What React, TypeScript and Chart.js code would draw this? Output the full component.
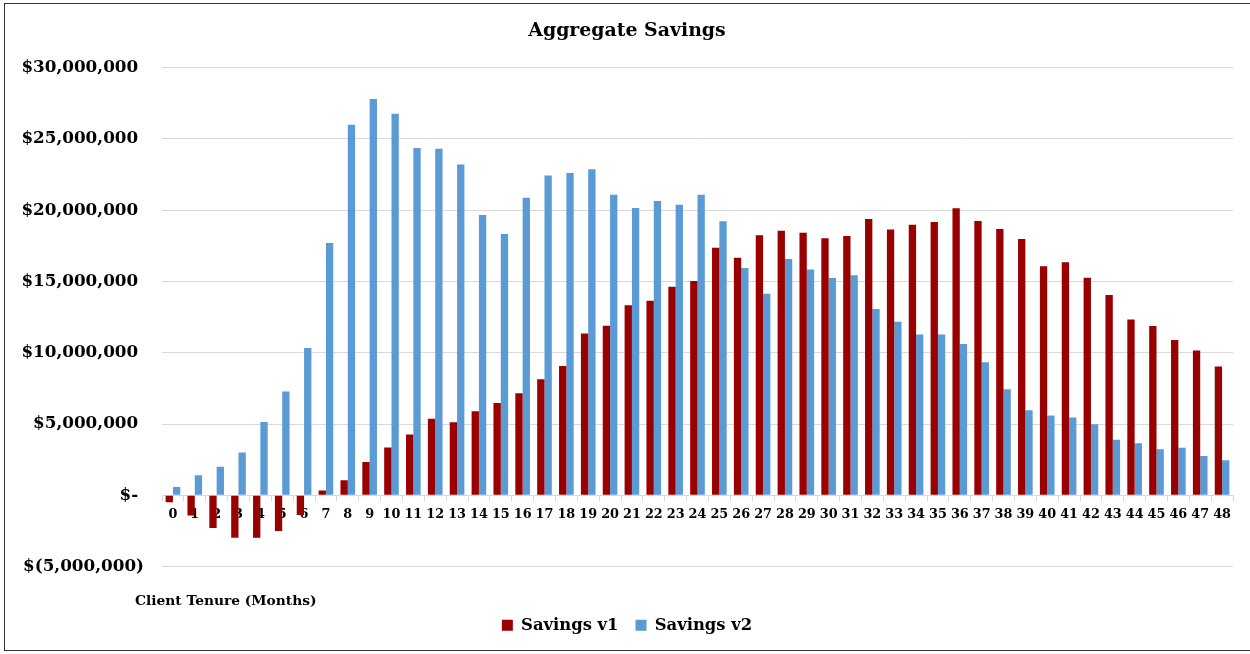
import React, { useEffect, useRef } from "react";
import { Chart, registerables } from "chart.js";

Chart.register(...registerables);

const months: string[] = Array.from({ length: 49 }, (_, i) => String(i));

const savingsV1: number[] = [
  -0.49, -1.41, -2.3, -2.97, -2.97, -2.5, -1.38, 0.33, 1.05, 2.34,
  3.35, 4.27, 5.38, 5.13, 5.9, 6.48, 7.16, 8.15, 9.08, 11.35,
  11.89, 13.34, 13.65, 14.63, 15.03, 17.37, 16.67, 18.24, 18.56, 18.42,
  18.03, 18.2, 19.39, 18.64, 18.99, 19.18, 20.14, 19.25, 18.69, 17.99,
  16.07, 16.35, 15.27, 14.05, 12.34, 11.87, 10.89, 10.16, 9.04,
].map((v) => v * 1e6);

const savingsV2: number[] = [
  0.59, 1.41, 2.01, 3.0, 5.15, 7.28, 10.33, 17.7, 26.0, 27.8,
  26.77, 24.37, 24.32, 23.2, 19.66, 18.33, 20.88, 22.43, 22.61, 22.87,
  21.09, 20.15, 20.65, 20.39, 21.09, 19.22, 15.94, 14.14, 16.57, 15.85,
  15.25, 15.43, 13.07, 12.18, 11.29, 11.29, 10.61, 9.34, 7.45, 5.97,
  5.6, 5.46, 4.99, 3.89, 3.65, 3.23, 3.33, 2.76, 2.46,
].map((v) => v * 1e6);

const seriesNames: string[] = ["Savings v1", "Savings v2"];
const seriesColors: string[] = ["#990000", "#5B9BD5"];
const chartTitle = "Aggregate Savings";
const xAxisTitle = "Client Tenure (Months)";

const FONT = '"DejaVu Serif", serif';

function formatMoney(v: number): string {
  if (v === 0) return "$- ";
  const abs = Math.abs(v).toLocaleString("en-US");
  return v < 0 ? `$(${abs})` : `$${abs} `;
}

const axisTitlePlugin = {
  id: "axisTitleText",
  afterDraw(chart: any) {
    const { ctx, chartArea } = chart;
    ctx.save();
    ctx.font = `bold 13.8px ${FONT}`;
    ctx.fillStyle = "#000";
    ctx.textAlign = "left";
    ctx.textBaseline = "middle";
    ctx.fillText(xAxisTitle, chartArea.left - 27, chartArea.bottom + 35);
    ctx.restore();
  },
};

export default function App() {
  const canvasRef = useRef<HTMLCanvasElement | null>(null);

  useEffect(() => {
    if (!canvasRef.current) return;
    Chart.defaults.font.family = FONT;
    Chart.defaults.color = "#000";
    const chart = new Chart(canvasRef.current, {
      type: "bar",
      data: {
        labels: months,
        datasets: [
          {
            label: seriesNames[0],
            data: savingsV1,
            backgroundColor: seriesColors[0],
            borderWidth: 0,
            categoryPercentage: 0.67,
            barPercentage: 1,
          },
          {
            label: seriesNames[1],
            data: savingsV2,
            backgroundColor: seriesColors[1],
            borderWidth: 0,
            categoryPercentage: 0.67,
            barPercentage: 1,
          },
        ],
      },
      options: {
        animation: false,
        responsive: false,
        maintainAspectRatio: false,
        layout: { padding: { left: 21, right: 17, top: 0, bottom: 10.5 } },
        plugins: {
          title: {
            display: true,
            text: chartTitle,
            color: "#000",
            font: { size: 18.9, weight: "bold", family: FONT },
            padding: { top: 20, bottom: 25 },
          },
          legend: {
            position: "bottom",
            labels: {
              color: "#000",
              font: { size: 16.4, weight: "bold", family: FONT },
              boxWidth: 11,
              boxHeight: 11,
              padding: 17,
            },
          },
          tooltip: { enabled: false },
        },
        scales: {
          x: {
            position: { y: 0 } as any,
            offset: true,
            grid: {
              display: true,
              offset: true,
              drawOnChartArea: false,
              drawTicks: true,
              tickLength: 5,
              color: "#d9d9d9",
            },
            border: { display: true, color: "#d9d9d9", width: 1 },
            ticks: {
              color: "#000",
              font: { size: 12.8, weight: "bold", family: FONT },
              padding: 7,
              maxRotation: 0,
              autoSkip: false,
            },
          },
          xPad: {
            type: "category",
            labels: [""],
            position: "bottom",
            display: true,
            grid: { display: false },
            border: { display: false },
            ticks: { display: false },
            afterFit(scale: any) {
              scale.height = 33.5;
            },
          },
          y: {
            min: -5000000,
            max: 30000000,
            ticks: {
              stepSize: 5000000,
              color: "#000",
              font: { size: 16.8, weight: "bold", family: FONT },
              padding: 18,
              callback: (v: any) => formatMoney(Number(v)),
            },
            grid: { color: "#d9d9d9", lineWidth: 1, drawTicks: false },
            border: { display: false },
            afterFit(scale: any) {
              scale.width = 141;
            },
          },
        },
      },
      plugins: [axisTitlePlugin],
    });
    return () => chart.destroy();
  }, []);

  return (
    <div style={{ position: "absolute", left: 0, top: 0, width: 1250, height: 654, background: "#fff" }}>
      <div
        style={{
          position: "absolute",
          left: 4,
          top: 3,
          width: 1260,
          height: 648,
          border: "1.5px solid #333",
          boxSizing: "border-box",
        }}
      />
      <canvas ref={canvasRef} width={1250} height={654} style={{ position: "absolute", left: 0, top: 0 }} />
    </div>
  );
}
